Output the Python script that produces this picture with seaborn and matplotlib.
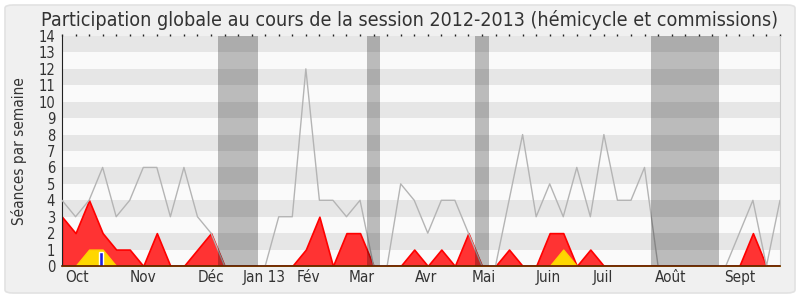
import numpy as np
import pandas as pd
import matplotlib
matplotlib.use("Agg")
import matplotlib.pyplot as plt
from matplotlib.patches import FancyBboxPatch
import seaborn as sns

# ---- data (one value per week) ----
weeks = list(range(54))
total = [4, 3, 4, 6, 3, 4, 6, 6, 3, 6, 3, 2, 0, 0, 0, 0, 3, 3, 12, 4,
         4, 3, 4, 0, 0, 5, 4, 2, 4, 4, 2, 0, 0, 4, 8, 3, 5, 3, 6, 3,
         8, 4, 4, 6, 0, 0, 0, 0, 0, 0, 2, 4, 0, 4]
red = [3, 2, 4, 2, 1, 1, 0, 2, 0, 0, 1, 2, 0, 0, 0, 0, 0, 0, 1, 3,
       0, 2, 2, 0, 0, 0, 1, 0, 1, 0, 2, 0, 0, 1, 0, 0, 2, 2, 0, 1,
       0, 0, 0, 0, 0, 0, 0, 0, 0, 0, 0, 2, 0, 0]
yellow = [0, 0, 1, 1, 0, 0, 0, 0, 0, 0, 0, 0, 0, 0, 0, 0, 0, 0, 0, 0,
          0, 0, 0, 0, 0, 0, 0, 0, 0, 0, 0, 0, 0, 0, 0, 0, 0, 1, 0, 0,
          0, 0, 0, 0, 0, 0, 0, 0, 0, 0, 0, 0, 0, 0]
blue_weeks = [2.9]
blue_vals = [0.85]
vacations = [(11.5, 14.5), (22.5, 23.5), (30.5, 31.5), (43.5, 48.5)]
month_labels = ["Oct", "Nov", "Déc", "Jan 13", "Fév", "Mar", "Avr", "Mai",
                "Juin", "Juil", "Août", "Sept"]
month_pos = [1.1, 6.0, 11.0, 14.9, 18.2, 22.1, 26.9, 31.1, 35.9, 39.9, 44.9, 50.0]

df = pd.DataFrame({"week": weeks, "total": total, "red": red, "yellow": yellow})

sns.set_style("white")
plt.rcParams["font.family"] = ["DejaVu Sans"]
plt.rcParams["font.stretch"] = "condensed"

fig = plt.figure(figsize=(8, 3), dpi=100)
fig.patch.set_facecolor("white")
box = FancyBboxPatch((5 / 800, 7 / 300), 790 / 800, 288 / 300,
                     boxstyle="round,pad=0,rounding_size=0.01",
                     transform=fig.transFigure, facecolor="#f0f0f0",
                     edgecolor="#e2e2e2", linewidth=1.2, zorder=-10)
fig.patches.append(box)

ax = fig.add_axes([62 / 800, 34 / 300, 718 / 800, 230 / 300])
ax.set_zorder(1)
ax.set_facecolor("#fafafa")
for k in range(7):
    ax.axhspan(2 * k + 1, 2 * k + 2, color="#e6e6e6", lw=0, zorder=0)

ax.fill_between(df["week"], 0, df["red"], facecolor=(1, 0.2, 0.2),
                edgecolor="#ff0000", linewidth=1.2, zorder=2)
ax.fill_between(df["week"], 0, df["yellow"], facecolor="#ffd700",
                edgecolor="#ffd000", linewidth=1.0, zorder=3)
ax.bar(blue_weeks, blue_vals, width=0.27, color="#2020e0", zorder=4)
sns.lineplot(data=df, x="week", y="total", color="#b4b4b4", linewidth=1.0,
             ax=ax, zorder=5)

for a, b in vacations:
    ax.axvspan(a, b, color="black", alpha=0.25, lw=0, zorder=6)

ax.set_xlim(0, 53)
ax.set_ylim(0, 14)
ax.set_yticks(range(15))
ax.xaxis.remove_overlapping_locs = False
ax.set_xticks(weeks)
ax.set_xticklabels([])
ax.set_xticks(month_pos, minor=True)
ax.set_xticklabels(month_labels, minor=True)
ax.tick_params(axis="x", which="minor", length=0, pad=3, labelsize=11,
               labelcolor="#333333")
ax.tick_params(axis="x", which="major", direction="out", length=4,
               width=1, color="#222222", top=True)
ax.tick_params(axis="y", direction="out", length=4, width=1,
               color="#222222", labelsize=10.5, labelcolor="#333333", pad=1)
ax.set_xlabel("")
ax.set_ylabel("Séances par semaine", fontsize=11, color="#333333", labelpad=8)

ax.spines["top"].set_visible(False)
ax.spines["right"].set_color("#cccccc")
ax.spines["left"].set_color("#222222")
ax.spines["bottom"].set_color("#5a1a00")
ax.spines["bottom"].set_linewidth(1.2)
ax.spines["bottom"].set_zorder(7)

# top dotted ticks
for t in ax.xaxis.get_major_ticks():
    t.tick2line.set_markersize(1.5)

fig.text(410 / 800, 0.968, "Participation globale au cours de la session 2012-2013 (hémicycle et commissions)",
         ha="center", va="top", fontsize=14.1, color="#333333")

fig.savefig("out.png", dpi=100, facecolor="white")
